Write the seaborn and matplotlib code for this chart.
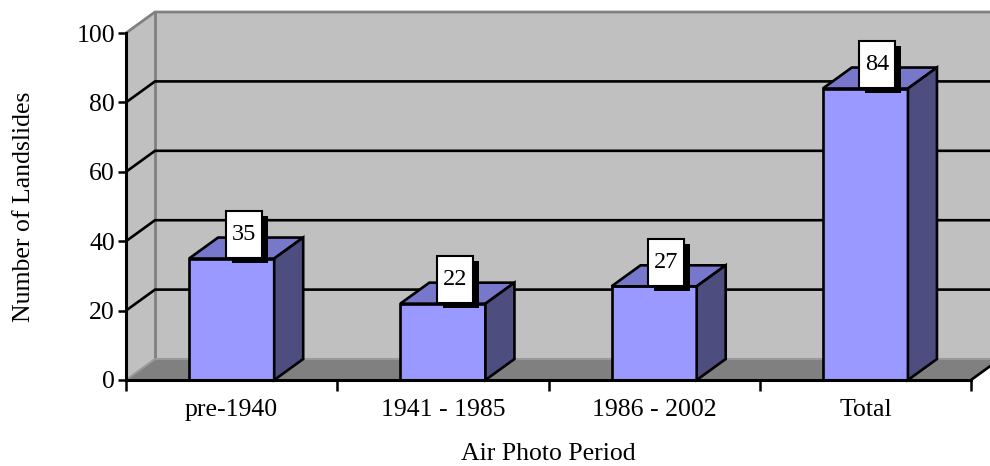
import numpy as np
import pandas as pd
import seaborn as sns
import matplotlib.pyplot as plt
import matplotlib.transforms as mtransforms
from matplotlib.patches import Polygon, Rectangle

# datos
periodos = ["pre-1940", "1941 - 1985", "1986 - 2002", "Total"]
deslizamientos = [35, 22, 27, 84]
y_ticks = [0, 20, 40, 60, 80, 100]

df = pd.DataFrame({"periodo": periodos, "n": deslizamientos})

sns.set_style("ticks", rc={"text.color": "black", "axes.labelcolor": "black",
                           "xtick.color": "black", "ytick.color": "black"})
plt.rcParams["font.family"] = ["Liberation Serif", "DejaVu Serif"]

fig = plt.figure(figsize=(9.9, 4.66), dpi=100)
ax = fig.add_axes([126 / 990, 86 / 466, 845 / 990, 347 / 466])

# profundidad 3D (en unidades de datos)
dx, dy = 0.1373, 6.05
ancho = 0.403
x0, x1 = -0.5, len(periodos) - 0.5
lw = 1.9

# paredes y suelo
pared = "#C0C0C0"
ax.add_patch(Polygon([(x0 + dx, dy), (x1 + dx, dy), (x1 + dx, 100 + dy), (x0 + dx, 100 + dy)],
                     closed=True, fc=pared, ec="none", zorder=0.3, clip_on=False))
ax.add_patch(Polygon([(x0, 0), (x0, 100), (x0 + dx, 100 + dy), (x0 + dx, dy)],
                     closed=True, fc=pared, ec="none", zorder=0.3, clip_on=False))
ax.add_patch(Polygon([(x0, 0), (x1, 0), (x1 + dx, dy), (x0 + dx, dy)],
                     closed=True, fc="#808080", ec="none", zorder=0.4, clip_on=False))
ax.plot([x0, x0 + dx, x1 + dx], [100, 100 + dy, 100 + dy], color="#808080", lw=2, zorder=0.6, clip_on=False)
ax.plot([x0 + dx, x0 + dx], [dy, 100 + dy], color="#808080", lw=2, zorder=0.6, clip_on=False)
ax.plot([x0, x0 + dx, x1 + dx], [0, dy, dy], color="#9A9A9A", lw=1.5, zorder=0.6, clip_on=False)
ax.plot([x1, x1 + dx], [0, dy], color="black", lw=lw, zorder=0.6, clip_on=False)

# líneas de rejilla
for g in y_ticks[1:-1]:
    ax.plot([x0, x0 + dx, x1 + dx], [g, g + dy, g + dy], color="black", lw=lw,
            zorder=0.8, clip_on=False, solid_joinstyle="miter")

# barras frontales
sns.barplot(data=df, x="periodo", y="n", color="#9999FF", saturation=1, width=ancho,
            edgecolor="black", linewidth=lw, zorder=2, ax=ax)

# caras superior y lateral
for i, v in enumerate(deslizamientos):
    l, r = i - ancho / 2, i + ancho / 2
    ax.add_patch(Polygon([(l, v), (r, v), (r + dx, v + dy), (l + dx, v + dy)], closed=True,
                         fc="#7777CC", ec="black", lw=lw, zorder=2.1, clip_on=False))
    ax.add_patch(Polygon([(r, 0), (r + dx, dy), (r + dx, v + dy), (r, v)], closed=True,
                         fc="#4D4D80", ec="black", lw=lw, zorder=2.1, clip_on=False))

ax.set_xlim(x0, x1)
ax.set_ylim(0, 100)

# etiquetas de valor con sombra
for i, v in enumerate(deslizamientos):
    base = mtransforms.ScaledTranslation(i, v, ax.transData)
    t = mtransforms.Affine2D() + base
    ax.add_patch(Rectangle((12 - 18 + 6, 24 - 23.5 - 5), 36, 47, transform=t,
                           fc="black", ec="none", zorder=5, clip_on=False))
    ax.add_patch(Rectangle((12 - 18, 24 - 23.5), 36, 47, transform=t,
                           fc="white", ec="black", lw=1.5, zorder=5.1, clip_on=False))
    ax.annotate(str(v), xy=(i, v), xytext=(12, 24), textcoords="offset pixels",
                ha="center", va="center", fontsize=17.5, zorder=6, annotation_clip=False)

# ejes
for s in ["top", "right"]:
    ax.spines[s].set_visible(False)
for s in ["left", "bottom"]:
    ax.spines[s].set_linewidth(2.2)
    ax.spines[s].set_color("black")
    ax.spines[s].set_zorder(3)
ax.patch.set_visible(False)

ax.set_yticks(y_ticks)
ax.tick_params(axis="y", direction="out", length=6, width=1.8, pad=2, labelsize=18.5)
ax.set_xticks(np.arange(x0, x1 + 0.1, 1.0))
ax.set_xticklabels([])
ax.set_xticks(range(len(periodos)), minor=True)
ax.set_xticklabels(periodos, minor=True)
ax.tick_params(axis="x", which="major", direction="out", length=8, width=1.8)
ax.tick_params(axis="x", which="minor", length=0, pad=14, labelsize=18.5)

ax.set_xlabel("Air Photo Period", fontsize=18.5)
ax.set_ylabel("Number of Landslides", fontsize=18.5)
ax.xaxis.set_label_coords(0.5, (380 - 443) / 347)
ax.yaxis.set_label_coords((35 - 126) / 845, 0.5)

plt.savefig("out.png", dpi=100)
